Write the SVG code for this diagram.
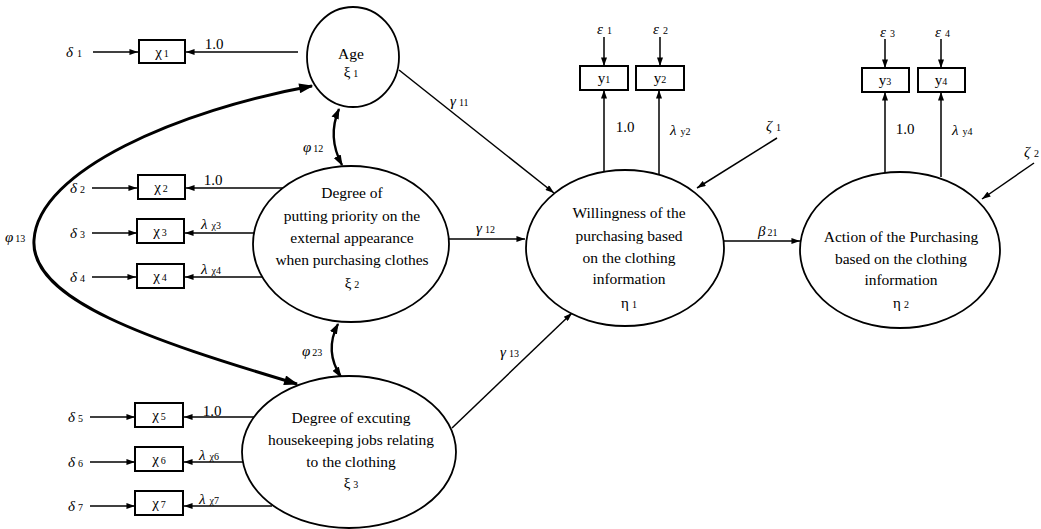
<svg xmlns="http://www.w3.org/2000/svg" width="1041" height="529" viewBox="0 0 1041 529">
<defs>
<marker id="ah" viewBox="0 0 10 7" refX="10" refY="3.5" markerWidth="10" markerHeight="6" markerUnits="userSpaceOnUse" orient="auto-start-reverse"><path d="M0,0 L10,3.5 L0,7 z" fill="#000" stroke="none"/></marker>
<marker id="ahb" viewBox="0 0 10 7" refX="9" refY="3.5" markerWidth="16" markerHeight="10" markerUnits="userSpaceOnUse" orient="auto-start-reverse"><path d="M0,0 L10,3.5 L0,7 z" fill="#000" stroke="none"/></marker>
<marker id="ahm" viewBox="0 0 10 7" refX="9" refY="3.5" markerWidth="11" markerHeight="8" markerUnits="userSpaceOnUse" orient="auto-start-reverse"><path d="M0,0 L10,3.5 L0,7 z" fill="#000" stroke="none"/></marker>
</defs>
<rect x="0" y="0" width="1041" height="529" fill="#fff"/>

<g id="connectors" fill="none" stroke="#000" stroke-width="1.5" marker-end="url(#ah)">
  <line x1="93" y1="52" x2="138" y2="52"/>
  <line x1="92" y1="188" x2="137" y2="188"/>
  <line x1="92" y1="233" x2="137" y2="233"/>
  <line x1="92" y1="277" x2="136" y2="277"/>
  <line x1="90" y1="417" x2="135" y2="417"/>
  <line x1="90" y1="462" x2="135" y2="462"/>
  <line x1="90" y1="506" x2="135" y2="506"/>
  <line x1="298" y1="52" x2="186" y2="52"/>
  <line x1="283" y1="188" x2="186" y2="188"/>
  <line x1="254" y1="233" x2="185" y2="233"/>
  <line x1="262" y1="277" x2="185" y2="277"/>
  <line x1="254" y1="417" x2="184" y2="417"/>
  <line x1="243" y1="462" x2="184" y2="462"/>
  <line x1="272" y1="506" x2="184" y2="506"/>
  <path d="M297,384 C150,340 30,300 34,240 C38,170 180,110 312,86" stroke-width="3" marker-start="url(#ahb)" marker-end="url(#ahb)"/>
  <path d="M339,109 Q327,137 342,165" stroke-width="2.4" marker-start="url(#ahm)" marker-end="url(#ahm)"/>
  <path d="M338,324 Q324,351 341,377" stroke-width="2.4" marker-start="url(#ahm)" marker-end="url(#ahm)"/>
  <line x1="399" y1="70" x2="554" y2="193"/>
  <line x1="449" y1="239" x2="525" y2="239"/>
  <line x1="452" y1="428" x2="572" y2="313"/>
  <line x1="724" y1="241" x2="800" y2="241"/>
  <line x1="777" y1="138" x2="697" y2="188"/>
  <line x1="1034" y1="163" x2="982" y2="199"/>
  <line x1="604" y1="171" x2="604" y2="90"/>
  <line x1="659" y1="174" x2="659" y2="90"/>
  <line x1="604" y1="37" x2="604" y2="66"/>
  <line x1="660" y1="37" x2="660" y2="66"/>
  <line x1="885" y1="173" x2="885" y2="92"/>
  <line x1="941" y1="177" x2="941" y2="92"/>
  <line x1="885" y1="39" x2="885" y2="68"/>
  <line x1="941" y1="39" x2="941" y2="68"/>
</g>

<g id="labels" font-size="15" font-style="italic" fill="#000">
  <text font-family="Liberation Serif" x="66" y="57">δ<tspan font-size="10" font-style="normal" dx="4">1</tspan></text>
  <text font-family="Liberation Serif" x="70" y="193">δ<tspan font-size="10" font-style="normal" dx="3">2</tspan></text>
  <text font-family="Liberation Serif" x="70" y="238">δ<tspan font-size="10" font-style="normal" dx="3">3</tspan></text>
  <text font-family="Liberation Serif" x="70" y="282">δ<tspan font-size="10" font-style="normal" dx="3">4</tspan></text>
  <text font-family="Liberation Serif" x="68" y="422">δ<tspan font-size="10" font-style="normal" dx="3">5</tspan></text>
  <text font-family="Liberation Serif" x="68" y="467">δ<tspan font-size="10" font-style="normal" dx="3">6</tspan></text>
  <text font-family="Liberation Serif" x="68" y="511">δ<tspan font-size="10" font-style="normal" dx="3">7</tspan></text>
  <text font-family="Liberation Serif" x="214" y="49" font-style="normal" text-anchor="middle">1.0</text>
  <text font-family="Liberation Serif" x="213" y="185" font-style="normal" text-anchor="middle">1.0</text>
  <text font-family="Liberation Serif" x="201" y="229">λ<tspan font-size="10" font-style="normal" dx="4">χ3</tspan></text>
  <text font-family="Liberation Serif" x="201" y="274">λ<tspan font-size="10" font-style="normal" dx="4">χ4</tspan></text>
  <text font-family="Liberation Serif" x="212" y="416" font-style="normal" text-anchor="middle">1.0</text>
  <text font-family="Liberation Serif" x="199" y="460">λ<tspan font-size="10" font-style="normal" dx="4">χ6</tspan></text>
  <text font-family="Liberation Serif" x="199" y="504">λ<tspan font-size="10" font-style="normal" dx="4">χ7</tspan></text>
  <text font-family="Liberation Serif" x="5" y="242">φ<tspan font-size="10" font-style="normal" dx="2">13</tspan></text>
  <text font-family="Liberation Serif" x="303" y="152">φ<tspan font-size="10" font-style="normal" dx="2">12</tspan></text>
  <text font-family="Liberation Serif" x="302" y="356">φ<tspan font-size="10" font-style="normal" dx="2">23</tspan></text>
  <text font-family="Liberation Serif" x="450" y="106">γ<tspan font-size="10" font-style="normal" dx="3">11</tspan></text>
  <text font-family="Liberation Serif" x="476" y="233">γ<tspan font-size="10" font-style="normal" dx="3">12</tspan></text>
  <text font-family="Liberation Serif" x="500" y="357">γ<tspan font-size="10" font-style="normal" dx="3">13</tspan></text>
  <text font-family="Liberation Serif" x="758" y="236">β<tspan font-size="10" font-style="normal" dx="2">21</tspan></text>
  <text font-family="Liberation Serif" x="766" y="131">ζ<tspan font-size="10" font-style="normal" dx="4">1</tspan></text>
  <text font-family="Liberation Serif" x="1024" y="157">ζ<tspan font-size="10" font-style="normal" dx="4">2</tspan></text>
  <text font-family="Liberation Serif" x="597" y="34">ε<tspan font-size="10" font-style="normal" dx="4">1</tspan></text>
  <text font-family="Liberation Serif" x="653" y="34">ε<tspan font-size="10" font-style="normal" dx="4">2</tspan></text>
  <text font-family="Liberation Serif" x="880" y="37">ε<tspan font-size="10" font-style="normal" dx="4">3</tspan></text>
  <text font-family="Liberation Serif" x="935" y="37">ε<tspan font-size="10" font-style="normal" dx="4">4</tspan></text>
  <text font-family="Liberation Serif" x="625" y="132" font-style="normal" text-anchor="middle">1.0</text>
  <text font-family="Liberation Serif" x="670" y="135">λ<tspan font-size="10" font-style="normal" dx="4">y2</tspan></text>
  <text font-family="Liberation Serif" x="905" y="134" font-style="normal" text-anchor="middle">1.0</text>
  <text font-family="Liberation Serif" x="952" y="135">λ<tspan font-size="10" font-style="normal" dx="4">y4</tspan></text>
</g>

<g id="observed" font-size="15" text-anchor="middle" fill="#000">
<g id="x1"><rect x="139" y="40" width="46" height="23" fill="#fff" stroke="#000" stroke-width="2"/><text font-family="Liberation Serif" x="162" y="57">χ<tspan font-size="10" dx="2">1</tspan></text></g>
<g id="x2"><rect x="138" y="175" width="47" height="24" fill="#fff" stroke="#000" stroke-width="2"/><text font-family="Liberation Serif" x="161" y="192">χ<tspan font-size="10" dx="2">2</tspan></text></g>
<g id="x3"><rect x="137" y="219" width="47" height="24" fill="#fff" stroke="#000" stroke-width="2"/><text font-family="Liberation Serif" x="160" y="236">χ<tspan font-size="10" dx="2">3</tspan></text></g>
<g id="x4"><rect x="137" y="264" width="47" height="24" fill="#fff" stroke="#000" stroke-width="2"/><text font-family="Liberation Serif" x="160" y="281">χ<tspan font-size="10" dx="2">4</tspan></text></g>
<g id="x5"><rect x="135" y="403" width="48" height="24" fill="#fff" stroke="#000" stroke-width="2"/><text font-family="Liberation Serif" x="159" y="420">χ<tspan font-size="10" dx="2">5</tspan></text></g>
<g id="x6"><rect x="135" y="447" width="48" height="24" fill="#fff" stroke="#000" stroke-width="2"/><text font-family="Liberation Serif" x="159" y="464">χ<tspan font-size="10" dx="2">6</tspan></text></g>
<g id="x7"><rect x="135" y="491" width="48" height="24" fill="#fff" stroke="#000" stroke-width="2"/><text font-family="Liberation Serif" x="159" y="508">χ<tspan font-size="10" dx="2">7</tspan></text></g>
<g id="y1"><rect x="580" y="66" width="48" height="24" fill="#fff" stroke="#000" stroke-width="2"/><text font-family="Liberation Serif" x="604" y="83">y<tspan font-size="10">1</tspan></text></g>
<g id="y2"><rect x="636" y="66" width="48" height="24" fill="#fff" stroke="#000" stroke-width="2"/><text font-family="Liberation Serif" x="660" y="83">y<tspan font-size="10">2</tspan></text></g>
<g id="y3"><rect x="862" y="68" width="47" height="24" fill="#fff" stroke="#000" stroke-width="2"/><text font-family="Liberation Serif" x="885" y="85">y<tspan font-size="10">3</tspan></text></g>
<g id="y4"><rect x="918" y="68" width="47" height="24" fill="#fff" stroke="#000" stroke-width="2"/><text font-family="Liberation Serif" x="941" y="85">y<tspan font-size="10">4</tspan></text></g>
</g>

<g id="latent" font-size="15.5" text-anchor="middle" fill="#000">
<g id="age">
  <ellipse cx="353" cy="57" rx="46" ry="50" fill="#fff" stroke="#000" stroke-width="1.8"/>
  <text font-family="Liberation Serif" x="351" y="59">Age</text>
  <text font-family="Liberation Serif" x="351" y="77" font-size="15">ξ<tspan font-size="10" dx="3">1</tspan></text>
</g>
<g id="xi2">
  <ellipse cx="351" cy="244" rx="98" ry="78" fill="#fff" stroke="#000" stroke-width="1.8"/>
  <text font-family="Liberation Serif" x="352" y="198">Degree of</text>
  <text font-family="Liberation Serif" x="352" y="221">putting priority on the</text>
  <text font-family="Liberation Serif" x="352" y="243">external appearance</text>
  <text font-family="Liberation Serif" x="352" y="265">when purchasing clothes</text>
  <text font-family="Liberation Serif" x="352" y="288" font-size="15">ξ<tspan font-size="10" dx="3">2</tspan></text>
</g>
<g id="xi3">
  <ellipse cx="349" cy="452" rx="107" ry="76" fill="#fff" stroke="#000" stroke-width="1.8"/>
  <text font-family="Liberation Serif" x="351" y="423">Degree of excuting</text>
  <text font-family="Liberation Serif" x="351" y="445">housekeeping jobs relating</text>
  <text font-family="Liberation Serif" x="351" y="467">to the clothing</text>
  <text font-family="Liberation Serif" x="351" y="488" font-size="15">ξ<tspan font-size="10" dx="3">3</tspan></text>
</g>
<g id="eta1">
  <ellipse cx="625" cy="248" rx="99" ry="78" fill="#fff" stroke="#000" stroke-width="1.8"/>
  <text font-family="Liberation Serif" x="629" y="218">Willingness of the</text>
  <text font-family="Liberation Serif" x="629" y="241">purchasing based</text>
  <text font-family="Liberation Serif" x="629" y="263">on the clothing</text>
  <text font-family="Liberation Serif" x="629" y="284">information</text>
  <text font-family="Liberation Serif" x="629" y="308" font-size="15">η<tspan font-size="10" dx="3">1</tspan></text>
</g>
<g id="eta2">
  <ellipse cx="900" cy="250" rx="100" ry="78" fill="#fff" stroke="#000" stroke-width="1.8"/>
  <text font-family="Liberation Serif" x="901" y="242">Action of the Purchasing</text>
  <text font-family="Liberation Serif" x="901" y="264">based on the clothing</text>
  <text font-family="Liberation Serif" x="901" y="285">information</text>
  <text font-family="Liberation Serif" x="901" y="308" font-size="15">η<tspan font-size="10" dx="3">2</tspan></text>
</g>
</g>
</svg>
